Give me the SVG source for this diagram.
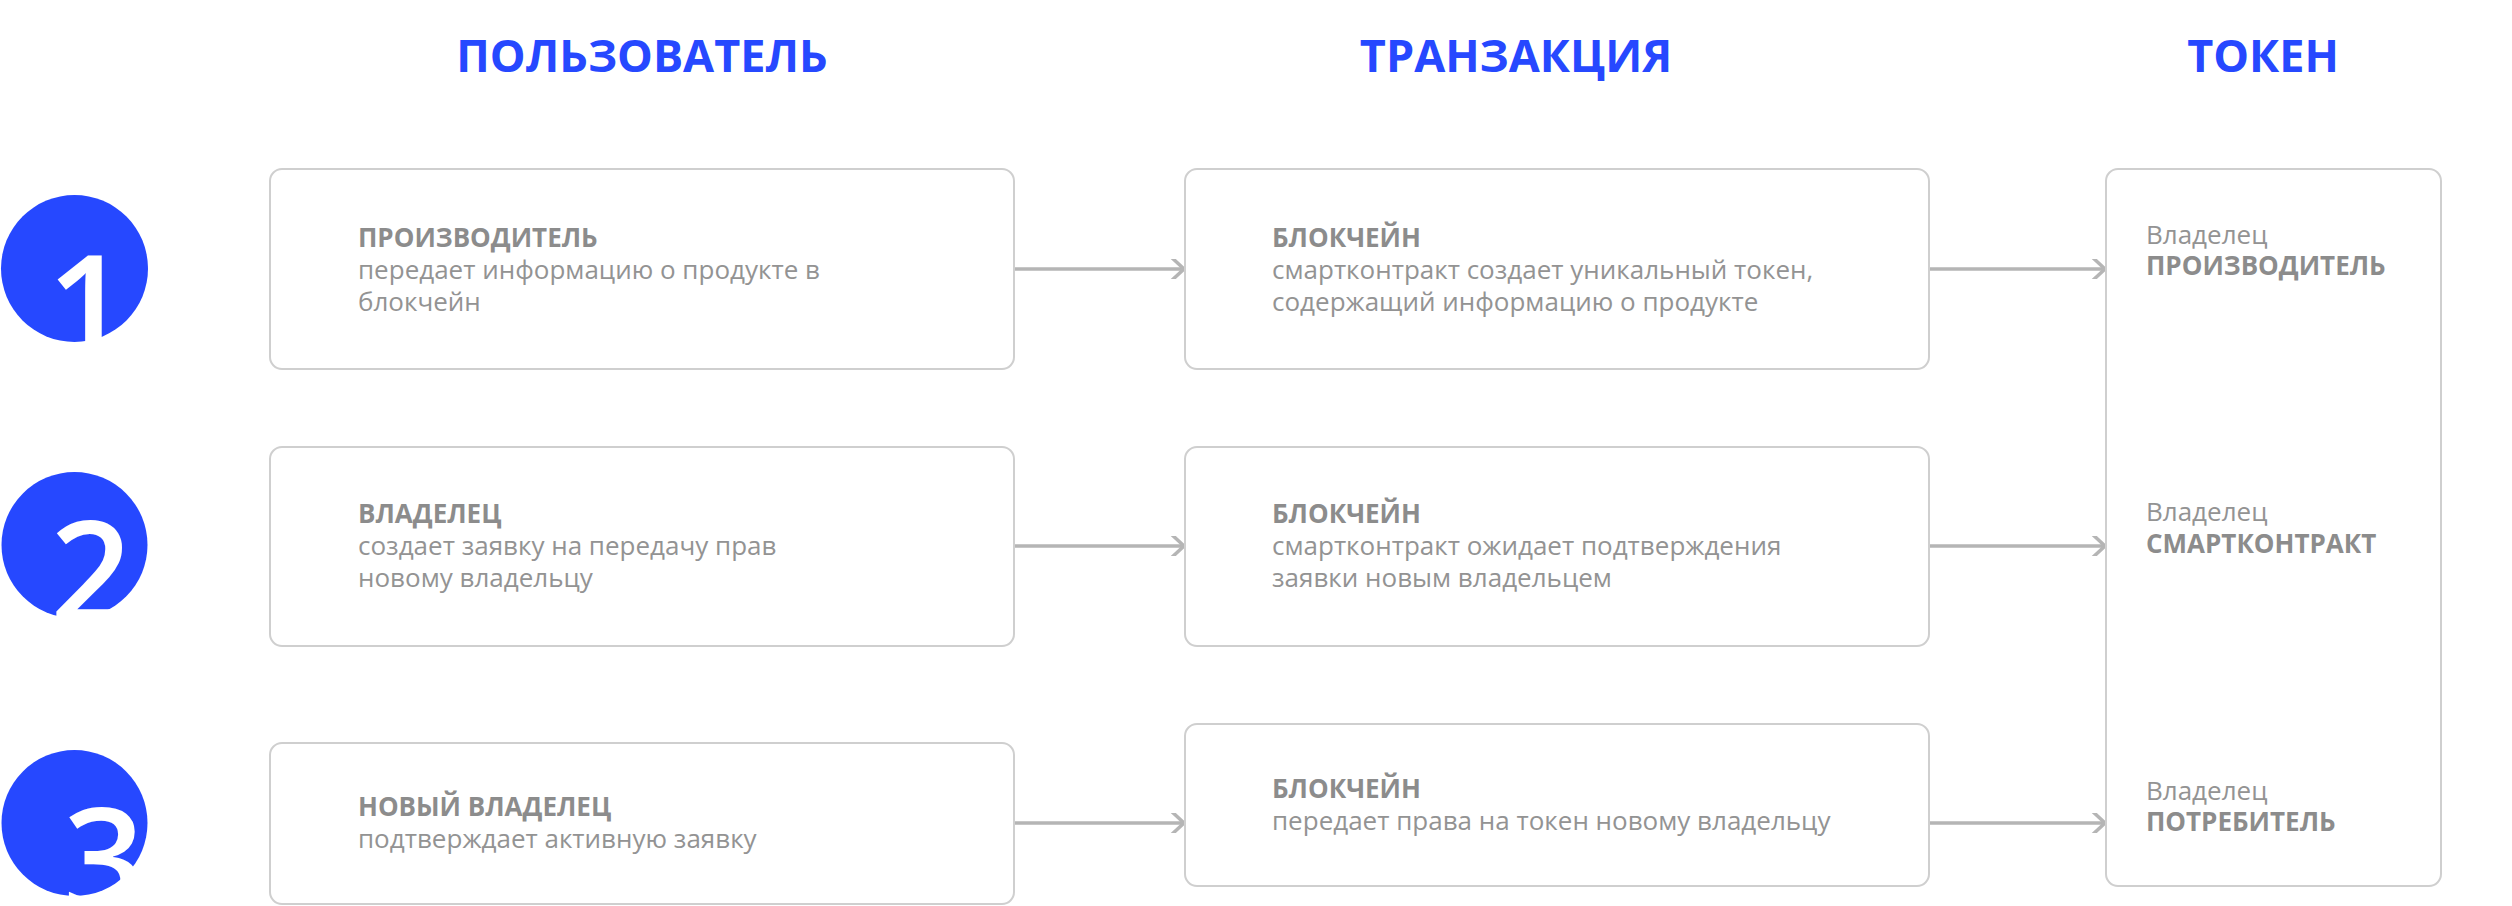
<svg xmlns="http://www.w3.org/2000/svg" width="2512" height="906" viewBox="0 0 2512 906">
<defs>
<style>
.hdr{font-family:"Open Sans","Liberation Sans",sans-serif;font-weight:700;font-size:45px;fill:#2648ff;text-anchor:middle}
.box{fill:#ffffff;stroke:#cfcfcf;stroke-width:2}
.ttl{font-family:"Open Sans","Liberation Sans",sans-serif;font-weight:700;font-size:26px;fill:#8c8c8c}
.txt{font-family:"Open Sans","Liberation Sans",sans-serif;font-weight:400;font-size:26px;fill:#939393}
.num{fill:#2648ff}
.dig{font-family:"Open Sans","Liberation Sans",sans-serif;font-weight:600;font-size:143px;fill:#ffffff}
.con{stroke:#b5b5b5;stroke-width:3.5;fill:none}
</style>
<marker id="arr" markerWidth="20" markerHeight="20" viewBox="0 0 20 20" refX="17" refY="10" orient="auto" markerUnits="userSpaceOnUse">
<path d="M2,-4 L17,10 L2,24" fill="none" stroke="#b5b5b5" stroke-width="3.5"/>
</marker>
</defs>
<rect width="2512" height="906" fill="#ffffff"/>

<g id="headers">
<text class="hdr" x="642" y="72">ПОЛЬЗОВАТЕЛЬ</text>
<text class="hdr" x="1516" y="72">ТРАНЗАКЦИЯ</text>
<text class="hdr" x="2263" y="72">ТОКЕН</text>
</g>

<g id="step1">
<circle class="num" cx="74.5" cy="268.5" r="73.5"/>
<text class="dig" x="47" y="358">1</text>
</g>
<g id="step2">
<circle class="num" cx="74.5" cy="545" r="73"/>
<text class="dig" x="50" y="624">2</text>
</g>
<g id="step3">
<circle class="num" cx="74.5" cy="823" r="73"/>
<text class="dig" x="63" y="911">3</text>
</g>

<g id="connectors">
<line class="con" x1="1015" y1="269" x2="1184" y2="269" marker-end="url(#arr)"/>
<line class="con" x1="1930" y1="269" x2="2105" y2="269" marker-end="url(#arr)"/>
<line class="con" x1="1015" y1="546" x2="1184" y2="546" marker-end="url(#arr)"/>
<line class="con" x1="1930" y1="546" x2="2105" y2="546" marker-end="url(#arr)"/>
<line class="con" x1="1015" y1="823" x2="1184" y2="823" marker-end="url(#arr)"/>
<line class="con" x1="1930" y1="823" x2="2105" y2="823" marker-end="url(#arr)"/>
</g>

<g id="user1">
<rect class="box" x="270" y="169" width="744" height="200" rx="12"/>
<text class="ttl" x="358" y="247">ПРОИЗВОДИТЕЛЬ</text>
<text class="txt" x="358" y="279">передает информацию о продукте в</text>
<text class="txt" x="358" y="311">блокчейн</text>
</g>
<g id="tx1">
<rect class="box" x="1185" y="169" width="744" height="200" rx="12"/>
<text class="ttl" x="1272" y="247">БЛОКЧЕЙН</text>
<text class="txt" x="1272" y="279">смартконтракт создает уникальный токен,</text>
<text class="txt" x="1272" y="311">содержащий информацию о продукте</text>
</g>

<g id="user2">
<rect class="box" x="270" y="447" width="744" height="199" rx="12"/>
<text class="ttl" x="358" y="523">ВЛАДЕЛЕЦ</text>
<text class="txt" x="358" y="555">создает заявку на передачу прав</text>
<text class="txt" x="358" y="587">новому владельцу</text>
</g>
<g id="tx2">
<rect class="box" x="1185" y="447" width="744" height="199" rx="12"/>
<text class="ttl" x="1272" y="523">БЛОКЧЕЙН</text>
<text class="txt" x="1272" y="555">смартконтракт ожидает подтверждения</text>
<text class="txt" x="1272" y="587">заявки новым владельцем</text>
</g>

<g id="user3">
<rect class="box" x="270" y="743" width="744" height="161" rx="12"/>
<text class="ttl" x="358" y="816">НОВЫЙ ВЛАДЕЛЕЦ</text>
<text class="txt" x="358" y="848">подтверждает активную заявку</text>
</g>
<g id="tx3">
<rect class="box" x="1185" y="724" width="744" height="162" rx="12"/>
<text class="ttl" x="1272" y="798">БЛОКЧЕЙН</text>
<text class="txt" x="1272" y="830">передает права на токен новому владельцу</text>
</g>

<g id="token">
<rect class="box" x="2106" y="169" width="335" height="717" rx="12"/>
<text class="txt" x="2146" y="244">Владелец</text>
<text class="ttl" x="2146" y="275">ПРОИЗВОДИТЕЛЬ</text>
<text class="txt" x="2146" y="521">Владелец</text>
<text class="ttl" x="2146" y="553">СМАРТКОНТРАКТ</text>
<text class="txt" x="2146" y="800">Владелец</text>
<text class="ttl" x="2146" y="831">ПОТРЕБИТЕЛЬ</text>
</g>
</svg>
